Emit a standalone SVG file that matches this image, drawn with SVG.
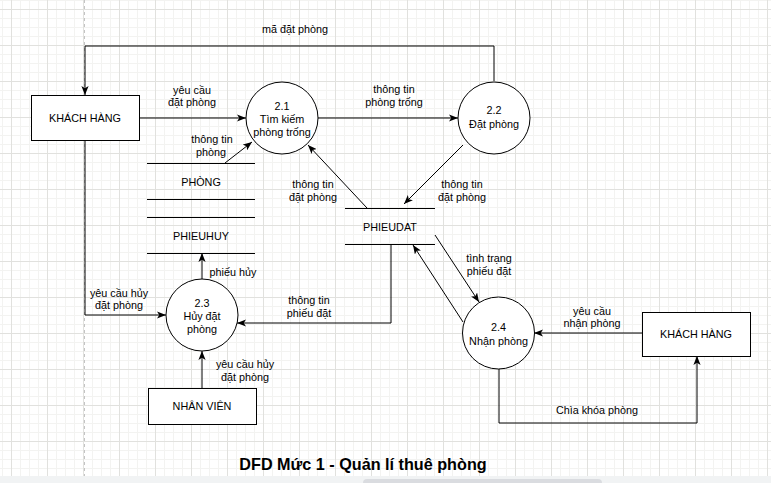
<svg xmlns="http://www.w3.org/2000/svg" width="771" height="483" viewBox="0 0 771 483">
<style>
text{font-family:"Liberation Sans",Arial,sans-serif;font-size:10.8px;fill:#000;text-anchor:middle}
.title{font-size:16.2px;font-weight:bold}
.shape{fill:#fff;stroke:#000;stroke-width:1}
.store{stroke:#000;stroke-width:1;fill:none}
.conn path{fill:none;stroke:#000;stroke-width:1;marker-end:url(#arr)}
</style>
<defs>
<pattern id="grid" patternUnits="userSpaceOnUse" x="11" y="9" width="36" height="36">
<rect width="36" height="36" fill="#fff"/>
<rect x="9" y="0" width="1" height="36" fill="#f3f3f1"/>
<rect x="18" y="0" width="1" height="36" fill="#f3f3f1"/>
<rect x="27" y="0" width="1" height="36" fill="#f3f3f1"/>
<rect x="0" y="9" width="36" height="1" fill="#f3f3f1"/>
<rect x="0" y="18" width="36" height="1" fill="#f3f3f1"/>
<rect x="0" y="27" width="36" height="1" fill="#f3f3f1"/>
<rect x="0" y="0" width="1" height="36" fill="#e1e1de"/>
<rect x="0" y="0" width="36" height="1" fill="#e1e1de"/>
</pattern>
<marker id="arr" viewBox="0 0 10 8" markerWidth="9" markerHeight="7.5" refX="10" refY="4" orient="auto" markerUnits="userSpaceOnUse">
<path d="M0,0 L10,4 L0,8 L2.5,4 Z" fill="#000"/>
</marker>
</defs>
<g id="background">
<rect x="0" y="0" width="771" height="476" fill="url(#grid)"/>
<line x1="84.5" y1="0" x2="84.5" y2="476" stroke="#c4c4c4" stroke-width="1" stroke-dasharray="3,3"/>
<rect x="0" y="476" width="771" height="7" fill="#f1f3f4"/>
<rect x="363" y="479" width="239" height="8" rx="4" fill="#dadce0"/>
</g>
<g id="connectors" class="conn">
<path d="M494,81 V46 H85 V95"/>
<path d="M139,118 H246"/>
<path d="M318,118 H458"/>
<path d="M225,163 L252,142"/>
<path d="M367,208 L308,145"/>
<path d="M463,145 L404,204"/>
<path d="M202,279 V253"/>
<path d="M85,141 V315 H166"/>
<path d="M391,244 V323 H237"/>
<path d="M435,235 L479,302"/>
<path d="M463,322 L413,245"/>
<path d="M642,333 H534"/>
<path d="M499,369 V423 H697 V356"/>
<path d="M202,388 V351"/>
</g>
<g id="labels">
<text x="295" y="33">mã đặt phòng</text>
<text x="192" y="94">yêu cầu</text>
<text x="192" y="106">đặt phòng</text>
<text x="394" y="93">thông tin</text>
<text x="394" y="106">phòng trống</text>
<text x="212" y="143">thông tin</text>
<text x="211" y="156">phòng</text>
<text x="313" y="188">thông tin</text>
<text x="313" y="201">đặt phòng</text>
<text x="462" y="188">thông tin</text>
<text x="462" y="201">đặt phòng</text>
<text x="233" y="276">phiếu hủy</text>
<text x="119" y="297">yêu cầu hủy</text>
<text x="119" y="309">đặt phòng</text>
<text x="309" y="304">thông tin</text>
<text x="309" y="317">phiếu đặt</text>
<text x="489" y="262">tình trạng</text>
<text x="489" y="275">phiếu đặt</text>
<text x="592" y="315">yêu cầu</text>
<text x="592" y="327">nhận phòng</text>
<text x="597" y="414">Chìa khóa phòng</text>
<text x="245" y="368">yêu cầu hủy</text>
<text x="245" y="381">đặt phòng</text>
</g>
<g id="kh1">
<rect class="shape" x="31.5" y="95.5" width="108" height="45"/>
<text x="85" y="122">KHÁCH HÀNG</text>
</g>
<g id="p21">
<circle class="shape" cx="282" cy="118" r="36"/>
<text x="282" y="110">2.1</text>
<text x="282" y="123">Tìm kiếm</text>
<text x="282" y="136">phòng trống</text>
</g>
<g id="p22">
<circle class="shape" cx="494" cy="118" r="36"/>
<text x="494" y="114">2.2</text>
<text x="494" y="128">Đặt phòng</text>
</g>
<g id="ds-phong">
<path class="store" d="M147,163.5 H255 M147,199.5 H255"/>
<text x="201" y="186">PHÒNG</text>
</g>
<g id="ds-phieuhuy">
<path class="store" d="M147,217.5 H255 M147,253.5 H255"/>
<text x="201" y="240">PHIEUHUY</text>
</g>
<g id="ds-phieudat">
<path class="store" d="M345,208.5 H435 M345,244.5 H435"/>
<text x="390" y="231">PHIEUDAT</text>
</g>
<g id="p23">
<circle class="shape" cx="202" cy="315" r="36"/>
<text x="202" y="307">2.3</text>
<text x="202" y="320">Hủy đặt</text>
<text x="202" y="333">phòng</text>
</g>
<g id="p24">
<circle class="shape" cx="498.5" cy="333" r="36"/>
<text x="498.5" y="331">2.4</text>
<text x="498.5" y="345">Nhận phòng</text>
</g>
<g id="kh2">
<rect class="shape" x="642.5" y="312.5" width="108" height="44"/>
<text x="696" y="338">KHÁCH HÀNG</text>
</g>
<g id="nv">
<rect class="shape" x="148.5" y="388.5" width="108" height="36"/>
<text x="202" y="410">NHÂN VIÊN</text>
</g>
<text class="title" x="363" y="470">DFD Mức 1 - Quản lí thuê phòng</text>
</svg>
